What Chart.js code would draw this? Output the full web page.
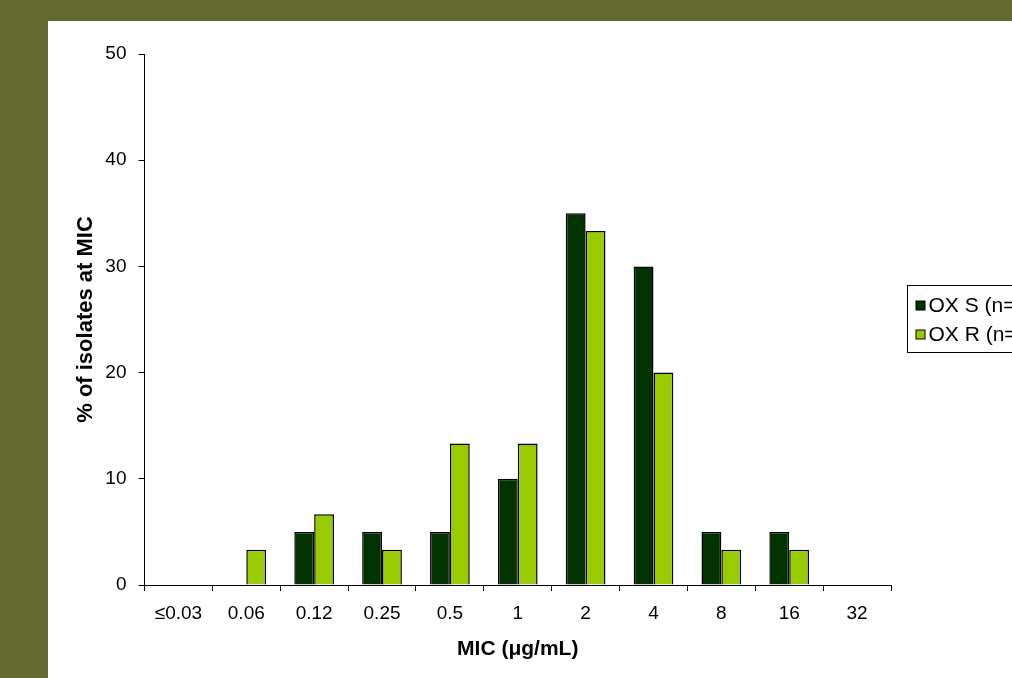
<!DOCTYPE html>
<html>
<head>
<meta charset="utf-8">
<script src="https://cdn.jsdelivr.net/npm/chart.js@4/dist/chart.umd.min.js"></script>
<style>
  html, body { margin: 0; padding: 0; }
  body { width: 1012px; height: 678px; background: #646b30; position: relative; overflow: hidden; }
  #wrap { position: absolute; left: 48px; top: 21px; width: 964px; height: 657px; background: #ffffff; }
  canvas { display: block; }
</style>
</head>
<body>
<div id="wrap"><canvas id="c" width="964" height="657"></canvas></div>
<script>
// MIC distribution of isolates by oxacillin susceptibility
const micLabels = ['≤0.03', '0.06', '0.12', '0.25', '0.5', '1', '2', '4', '8', '16', '32'];
const oxSusceptible = [0, 0, 5, 5, 5, 10, 35, 30, 5, 5, 0];
const oxResistant = [0, 3.33, 6.67, 3.33, 13.33, 13.33, 33.33, 20, 3.33, 3.33, 0];
const seriesNames = ['OX S (n=20)', 'OX R (n=30)'];
const yTicks = [0, 10, 20, 30, 40, 50];

const FONT = '"Liberation Sans", Arial, sans-serif';

// Legend box drawn at the right, running off the edge of the canvas
const sideLegend = {
  id: 'sideLegend',
  afterDraw(chart) {
    const ctx = chart.ctx;
    const x0 = 859.5, y0 = 264.5, h = 67;
    ctx.save();
    ctx.strokeStyle = '#000';
    ctx.lineWidth = 1;
    ctx.strokeRect(x0, y0, 200, h);
    ctx.font = '21px ' + FONT;
    ctx.textBaseline = 'middle';
    ctx.textAlign = 'left';
    chart.data.datasets.forEach((ds, i) => {
      const cy = y0 + 20 + i * 29;
      ctx.fillStyle = ds.backgroundColor;
      ctx.fillRect(x0 + 8.5, cy - 4.5, 9, 9);
      ctx.strokeRect(x0 + 8.5, cy - 4.5, 9, 9);
      ctx.fillStyle = '#000';
      ctx.fillText(ds.label, x0 + 21, cy + 1);
    });
    ctx.restore();
  }
};

new Chart(document.getElementById('c'), {
  type: 'bar',
  data: {
    labels: micLabels,
    datasets: [
      { label: seriesNames[0], data: oxSusceptible, backgroundColor: '#003300', borderColor: '#000', borderWidth: 1.5 },
      { label: seriesNames[1], data: oxResistant, backgroundColor: '#99cc00', borderColor: '#000', borderWidth: 1.5 }
    ]
  },
  options: {
    responsive: false,
    animation: false,
    devicePixelRatio: 1,
    layout: { padding: { left: 0, top: 33, right: 121, bottom: 0 } },
    plugins: { legend: { display: false }, tooltip: { enabled: false } },
    datasets: { bar: { categoryPercentage: 0.585, barPercentage: 1.0 } },
    scales: {
      x: {
        grid: { offset: true, drawOnChartArea: false, drawTicks: true, tickLength: 6, color: '#000' },
        border: { display: true, color: '#000', width: 1 },
        ticks: { color: '#000', font: { family: FONT, size: 19 }, padding: 11, maxRotation: 0, autoSkip: false },
        title: { display: true, text: 'MIC (μg/mL)', color: '#000', font: { family: FONT, size: 21, weight: 'bold' }, padding: { top: 0, bottom: 16 } },
        afterFit(scale) { scale.height = 93; }
      },
      y: {
        min: 0, max: 50,
        afterBuildTicks(scale) { scale.ticks = yTicks.map(v => ({ value: v })); },
        grid: { drawOnChartArea: false, drawTicks: true, tickLength: 6, color: '#000' },
        border: { display: true, color: '#000', width: 1 },
        ticks: { color: '#000', font: { family: FONT, size: 19 }, padding: 12 },
        title: { display: true, text: '% of isolates at MIC', color: '#000', font: { family: FONT, size: 22, weight: 'bold' }, padding: { top: 25, bottom: 0 } },
        afterFit(scale) { scale.width = 96.5; }
      }
    }
  },
  plugins: [sideLegend]
});
</script>
</body>
</html>
